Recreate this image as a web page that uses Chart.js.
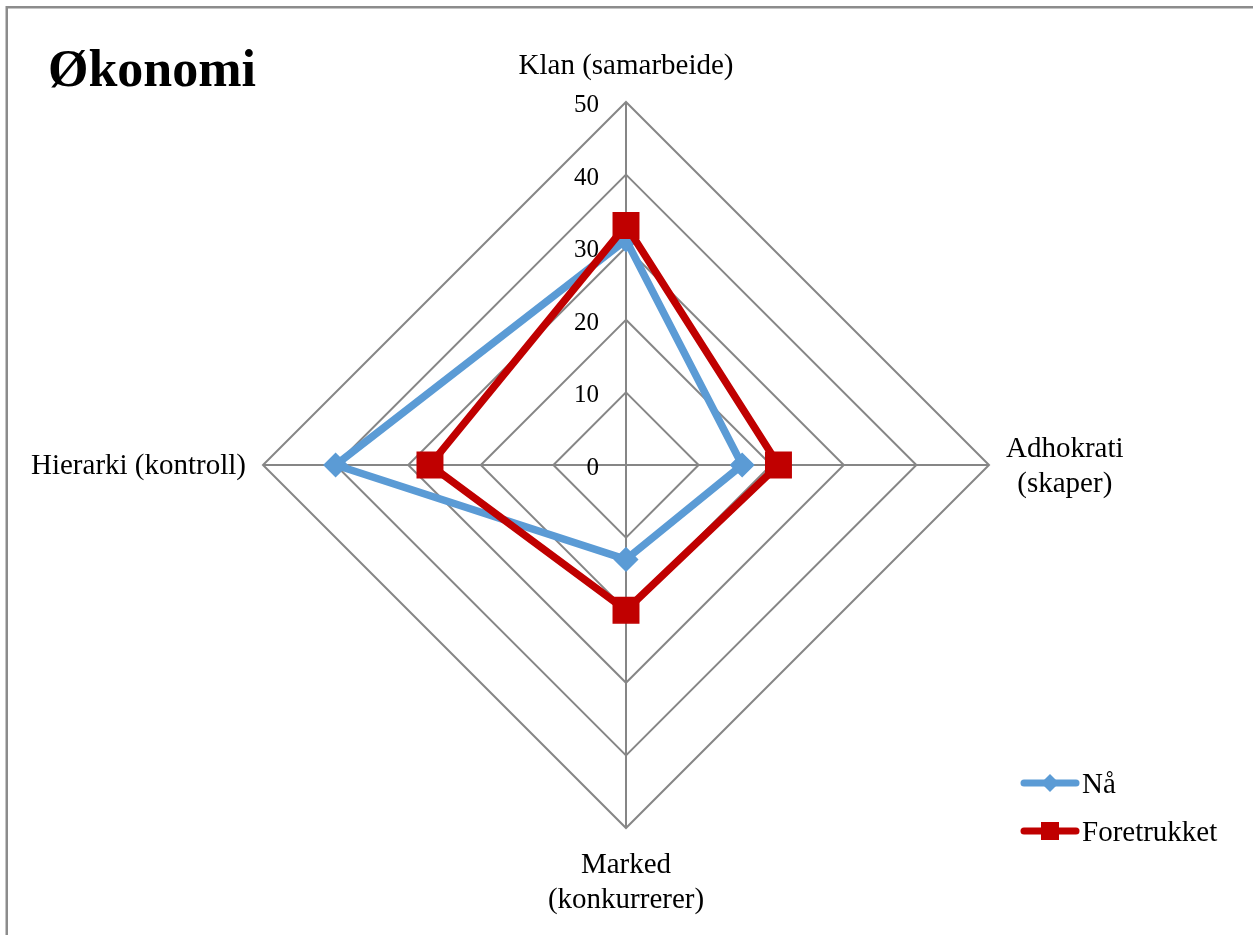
<!DOCTYPE html>
<html lang="no">
<head>
<meta charset="utf-8">
<title>Økonomi</title>
<script src="https://cdn.jsdelivr.net/npm/chart.js@4/dist/chart.umd.min.js"></script>
<style>
  html, body { margin: 0; padding: 0; background: #ffffff; }
  #wrap { width: 1253px; height: 935px; }
  canvas { display: block; }
</style>
</head>
<body>
<div id="wrap"><canvas id="chart" width="1253" height="935"></canvas></div>
<script>
// Axes of the culture profile (multi-line labels are arrays)
const categories = [
  ['Klan (samarbeide)'],
  ['Adhokrati', '(skaper)'],
  ['Marked', '(konkurrerer)'],
  ['Hierarki (kontroll)']
];
const seriesNames = ['Nå', 'Foretrukket'];
const naValues = [31, 16, 13, 40];
const foretrukketValues = [33, 21, 20, 27];
const tickValues = [0, 10, 20, 30, 40, 50];
const chartTitle = 'Økonomi';

const SERIF = '"Liberation Serif", "Times New Roman", serif';
const LABEL_FONT = '29px ' + SERIF;
const TICK_FONT = '25px ' + SERIF;
const LINE_H = 35;
const BLUE = '#5B9BD5';
const RED = '#C00000';
const GRID = '#868686';

function drawMarker(ctx, style, x, y, size, color) {
  ctx.save();
  ctx.fillStyle = color;
  ctx.beginPath();
  if (style === 'rectRot') {
    ctx.moveTo(x, y - size / 2);
    ctx.lineTo(x + size / 2, y);
    ctx.lineTo(x, y + size / 2);
    ctx.lineTo(x - size / 2, y);
    ctx.closePath();
  } else {
    ctx.rect(x - size / 2, y - size / 2, size, size);
  }
  ctx.fill();
  ctx.restore();
}

const decor = {
  id: 'decor',
  beforeDraw(chart) {
    const ctx = chart.ctx;
    ctx.save();
    ctx.fillStyle = '#ffffff';
    ctx.fillRect(0, 0, chart.width, chart.height);
    // outer frame (top and left edges)
    ctx.strokeStyle = '#8c8c8c';
    ctx.lineWidth = 2.5;
    ctx.beginPath();
    ctx.moveTo(6.75, chart.height);
    ctx.lineTo(6.75, 7.25);
    ctx.lineTo(chart.width, 7.25);
    ctx.stroke();
    // title
    ctx.fillStyle = '#000000';
    ctx.font = 'bold 52px ' + SERIF;
    ctx.textAlign = 'left';
    ctx.textBaseline = 'alphabetic';
    ctx.fillText(chartTitle, 48, 86);
    ctx.restore();
  },
  beforeDatasetsDraw(chart) {
    const ctx = chart.ctx;
    const scale = chart.scales.r;
    ctx.save();
    ctx.fillStyle = '#000000';
    // value ticks, placed to the left of the vertical axis
    ctx.font = TICK_FONT;
    ctx.textAlign = 'right';
    ctx.textBaseline = 'alphabetic';
    tickValues.forEach(v => {
      const d = scale.getDistanceFromCenterForValue(v);
      ctx.fillText(String(v), scale.xCenter - 27, scale.yCenter - d + 10);
    });
    // axis labels
    ctx.font = LABEL_FONT;
    const r = scale.drawingArea;
    categories.forEach((lines, i) => {
      const p = scale.getPointPosition(i, r);
      const dx = p.x - scale.xCenter;
      const dy = p.y - scale.yCenter;
      const widths = lines.map(l => ctx.measureText(l).width);
      const blockW = Math.max(...widths);
      const n = lines.length;
      let cx, firstBase;
      if (Math.abs(dx) < 1 && dy < 0) {
        cx = p.x;
        firstBase = p.y - 28 - (n - 1) * LINE_H;
      } else if (Math.abs(dx) < 1) {
        cx = p.x;
        firstBase = p.y + 45;
      } else if (dx > 0) {
        cx = p.x + 17 + blockW / 2;
        firstBase = p.y - (n - 1) * LINE_H / 2 + 9;
      } else {
        cx = p.x - 17 - blockW / 2;
        firstBase = p.y - (n - 1) * LINE_H / 2 + 9;
      }
      ctx.textAlign = 'center';
      lines.forEach((line, k) => ctx.fillText(line, cx, firstBase + k * LINE_H));
    });
    ctx.restore();
  },
  afterDraw(chart) {
    const ctx = chart.ctx;
    ctx.save();
    const rows = [783, 831];
    chart.data.datasets.forEach((ds, i) => {
      const y = rows[i];
      ctx.strokeStyle = ds.borderColor;
      ctx.lineWidth = 7;
      ctx.lineCap = 'round';
      ctx.beginPath();
      ctx.moveTo(1024, y);
      ctx.lineTo(1076, y);
      ctx.stroke();
      drawMarker(ctx, ds.pointStyle, 1050, y, 18, ds.borderColor);
      ctx.fillStyle = '#000000';
      ctx.font = LABEL_FONT;
      ctx.textAlign = 'left';
      ctx.textBaseline = 'alphabetic';
      ctx.fillText(ds.label, 1082, y + 10);
    });
    ctx.restore();
  }
};

new Chart(document.getElementById('chart'), {
  type: 'radar',
  data: {
    labels: categories,
    datasets: [
      {
        label: seriesNames[0],
        data: naValues,
        borderColor: BLUE,
        backgroundColor: BLUE,
        borderWidth: 7.5,
        borderJoinStyle: 'round',
        fill: false,
        tension: 0,
        pointStyle: 'rectRot',
        pointRadius: 11.5,
        pointBorderWidth: 1.5,
        pointBackgroundColor: BLUE,
        pointBorderColor: BLUE,
        order: 2
      },
      {
        label: seriesNames[1],
        data: foretrukketValues,
        borderColor: RED,
        backgroundColor: RED,
        borderWidth: 7.5,
        borderJoinStyle: 'round',
        fill: false,
        tension: 0,
        pointStyle: 'rect',
        pointRadius: 18,
        pointBorderWidth: 1.5,
        pointBackgroundColor: RED,
        pointBorderColor: RED,
        order: 1
      }
    ]
  },
  options: {
    responsive: false,
    animation: false,
    events: [],
    layout: { padding: { left: 263, right: 264, top: 102, bottom: 107 } },
    plugins: {
      legend: { display: false },
      title: { display: false },
      tooltip: { enabled: false }
    },
    scales: {
      r: {
        min: tickValues[0],
        max: tickValues[tickValues.length - 1],
        ticks: { stepSize: 10, display: false },
        pointLabels: { display: false },
        grid: { color: GRID, lineWidth: 2, circular: false },
        angleLines: { color: GRID, lineWidth: 2 }
      }
    }
  },
  plugins: [decor]
});
</script>
</body>
</html>
